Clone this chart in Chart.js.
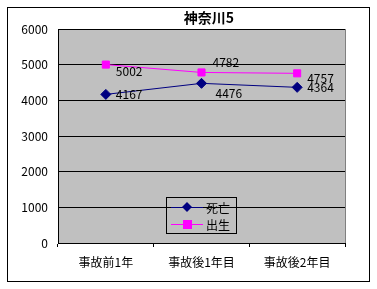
<!DOCTYPE html>
<html lang="ja">
  <head>
    <meta charset="UTF-8" />
    <title>神奈川5</title>
    <style>
      body { margin: 0; background: #fff; }
      canvas { display: block; }
    </style>
  </head>
  <body>
    <canvas id="grafico" width="377" height="289"></canvas>

    <script src="https://cdn.jsdelivr.net/npm/chart.js"></script>
    <script>
      const titulo = "神奈川5";
      const categorias = ["事故前1年", "事故後1年目", "事故後2年目"];
      const shibou = [4167, 4476, 4364];
      const shussei = [5002, 4782, 4757];
      const nomes = ["死亡", "出生"];

      const fonte = '"Noto Sans CJK JP", "DejaVu Sans", sans-serif';

      // deslocamento de cada rótulo de valor (dx, dy) em relação ao ponto
      const desloc = [
        [[10, 0], [14, 10], [10, 0]],
        [[10, 7], [11, -10], [10, 5]],
      ];

      const fundo = {
        id: "fundo",
        beforeDraw(chart) {
          const { ctx, chartArea: a } = chart;
          ctx.save();
          ctx.fillStyle = "#fff";
          ctx.fillRect(0, 0, chart.width, chart.height);
          ctx.strokeStyle = "#000";
          ctx.lineWidth = 1;
          ctx.strokeRect(7.5, 7.5, 362, 274);
          ctx.fillStyle = "#c0c0c0";
          ctx.fillRect(a.left, a.top, a.right - a.left, a.bottom - a.top);
          ctx.strokeStyle = "#808080";
          ctx.strokeRect(a.left + 0.5, a.top + 0.5, a.right - a.left, a.bottom - a.top);
          ctx.restore();
        },
        afterDraw(chart) {
          const { ctx } = chart;
          ctx.save();
          // titulo
          ctx.fillStyle = "#000";
          ctx.font = "bold 14px " + fonte;
          ctx.textAlign = "center";
          ctx.textBaseline = "middle";
          ctx.fillText(titulo, 209, 18);

          // legenda
          const lx = 166, ly = 197, lw = 70, lh = 36;
          ctx.strokeStyle = "#000";
          ctx.lineWidth = 1;
          ctx.strokeRect(lx + 0.5, ly + 0.5, lw, lh);
          ctx.font = "12px " + fonte;
          ctx.textAlign = "left";
          chart.data.datasets.forEach((ds, i) => {
            const y = ly + 10 + i * 17;
            ctx.strokeStyle = ds.borderColor;
            ctx.beginPath();
            ctx.moveTo(lx + 5, y + 0.5);
            ctx.lineTo(lx + 37, y + 0.5);
            ctx.stroke();
            ctx.fillStyle = ds.pointBackgroundColor;
            const cx = lx + 21;
            if (ds.pointStyle === "rectRot") {
              ctx.beginPath();
              ctx.moveTo(cx, y - 5);
              ctx.lineTo(cx + 5, y);
              ctx.lineTo(cx, y + 5);
              ctx.lineTo(cx - 5, y);
              ctx.closePath();
              ctx.fill();
            } else {
              ctx.fillRect(cx - 4, y - 4, 9, 9);
            }
            ctx.fillStyle = "#000";
            ctx.fillText(ds.label, lx + 40, y + 1);
          });
          ctx.restore();
        },
        afterDatasetsDraw(chart) {
          const { ctx } = chart;
          ctx.save();
          ctx.fillStyle = "#000";
          ctx.font = "12px " + fonte;
          ctx.textAlign = "left";
          ctx.textBaseline = "middle";
          chart.data.datasets.forEach((ds, i) => {
            chart.getDatasetMeta(i).data.forEach((p, j) => {
              const [dx, dy] = desloc[i][j];
              ctx.fillText(ds.data[j], p.x + dx, p.y + dy);
            });
          });
          ctx.restore();
        },
      };

      new Chart(grafico, {
        type: "line",
        data: {
          labels: categorias,
          datasets: [
            {
              label: nomes[0],
              data: shibou,
              borderColor: "#000080",
              backgroundColor: "#000080",
              pointBackgroundColor: "#000080",
              pointBorderColor: "#000080",
              pointStyle: "rectRot",
              pointRadius: 5,
              borderWidth: 1,
              tension: 0,
            },
            {
              label: nomes[1],
              data: shussei,
              borderColor: "#ff00ff",
              backgroundColor: "#ff00ff",
              pointBackgroundColor: "#ff00ff",
              pointBorderColor: "#ff00ff",
              pointStyle: "rect",
              pointRadius: 5,
              borderWidth: 1,
              tension: 0,
            },
          ],
        },
        options: {
          responsive: false,
          animation: false,
          layout: { padding: { left: 0, right: 32, top: 29, bottom: 0 } },
          plugins: {
            legend: { display: false },
            title: { display: false },
            tooltip: { enabled: false },
          },
          scales: {
            x: {
              offset: true,
              grid: {
                offset: true,
                drawOnChartArea: false,
                drawTicks: true,
                tickLength: 4,
                color: "#000",
              },
              border: { color: "#000", width: 1 },
              ticks: {
                color: "#000",
                font: { family: fonte, size: 12 },
                padding: 8,
                maxRotation: 0,
              },
              afterFit(s) { s.height = 46; },
            },
            y: {
              min: 0,
              max: 6000,
              ticks: {
                stepSize: 1000,
                color: "#000",
                font: { family: fonte, size: 12 },
                padding: 10,
                callback: (v) => String(v),
              },
              grid: { color: "#000", drawTicks: false },
              border: { color: "#000", width: 1 },
              afterFit(s) { s.width = 58; },
            },
          },
        },
        plugins: [fundo],
      });
    </script>
  </body>
</html>
